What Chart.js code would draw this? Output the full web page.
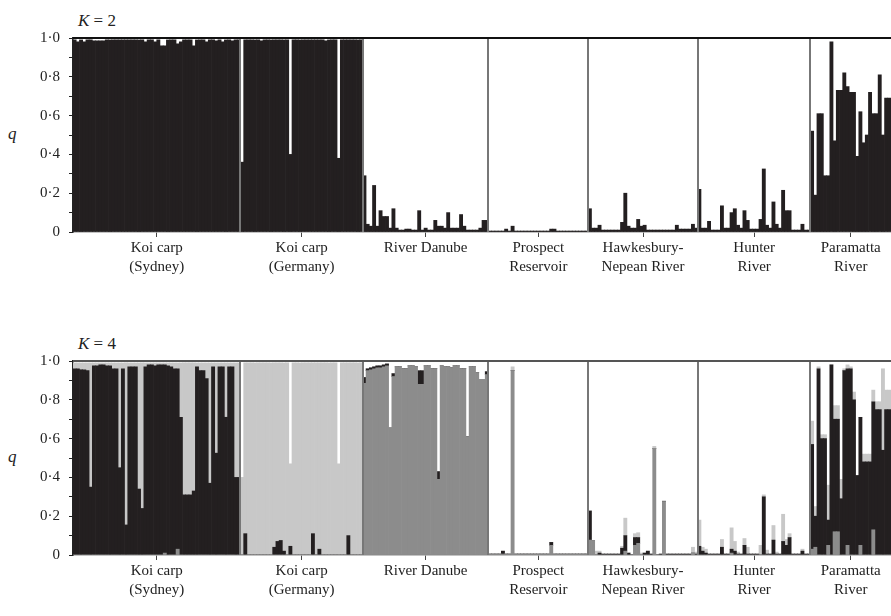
<!DOCTYPE html>
<html>
<head>
<meta charset="utf-8">
<script src="https://cdn.jsdelivr.net/npm/chart.js@4.4.0/dist/chart.umd.min.js"></script>
<style>
  body { margin: 0; background: #fff; width: 891px; height: 616px; overflow: hidden; position: relative; font-family: "Liberation Serif", serif; color: #222; }
  canvas { position: absolute; left: 0; }
  .txt { position: absolute; font-size: 17px; line-height: 20px; white-space: nowrap; }
</style>
</head>
<body>
<div class="txt" style="left:78px;top:11px"><i>K</i> = 2</div>
<div class="txt" style="left:8px;top:124px"><i>q</i></div>
<canvas id="k2" width="891" height="308" style="top:0"></canvas>
<div class="txt" style="left:78px;top:334px"><i>K</i> = 4</div>
<div class="txt" style="left:8px;top:447px"><i>q</i></div>
<canvas id="k4" width="891" height="308" style="top:308px"></canvas>
<script>
// Poblaciones (etiquetas del eje x)
const popLabels = [
  ['Koi carp', '(Sydney)'],
  ['Koi carp', '(Germany)'],
  ['River Danube'],
  ['Prospect', 'Reservoir'],
  ['Hawkesbury-', 'Nepean River'],
  ['Hunter', 'River'],
  ['Paramatta', 'River']
];
const yTickLabels = ['0', '0·2', '0·4', '0·6', '0·8', '1·0'];

// K = 2 : q de cada individuo (grupo negro)
const sydneyQ = [
  0.99, 0.98, 0.99, 0.98, 0.99, 0.99, 0.985, 0.985, 0.985, 0.985,
  0.99, 0.99, 0.99, 0.99, 0.99, 0.99, 0.99, 0.99, 0.99, 0.99,
  0.99, 0.99, 0.98, 0.99, 0.99, 0.98, 0.99, 0.96, 0.96, 0.99,
  0.99, 0.99, 0.97, 0.98, 0.99, 0.99, 0.99, 0.96, 0.99, 0.99,
  0.99, 0.98, 0.99, 0.99, 0.985, 0.99, 0.98, 0.99, 0.99, 0.985,
  0.99, 0.99];
const germanyQ = [
  0.36, 0.99, 0.99, 0.99, 0.99, 0.99, 0.985, 0.99, 0.99, 0.99,
  0.99, 0.99, 0.99, 0.99, 0.99, 0.40, 0.99, 0.99, 0.99, 0.99,
  0.99, 0.99, 0.99, 0.99, 0.99, 0.99, 0.985, 0.99, 0.99, 0.99,
  0.38, 0.99, 0.99, 0.99, 0.99, 0.99, 0.99, 0.99];
const danubeQ = [
  0.29, 0.04, 0.03, 0.24, 0.03, 0.11, 0.08, 0.08, 0.02, 0.12,
  0.02, 0.01, 0.01, 0.015, 0.015, 0.01, 0.01, 0.11, 0.01, 0.02,
  0.01, 0.01, 0.06, 0.03, 0.03, 0.02, 0.10, 0.02, 0.02, 0.02,
  0.09, 0.03, 0.01, 0.01, 0.01, 0.01, 0.02, 0.06, 0.06];
const prospectQ = [
  0.005, 0.005, 0.005, 0.005, 0.005, 0.015, 0.005, 0.03, 0.005, 0.005,
  0.005, 0.005, 0.005, 0.005, 0.005, 0.005, 0.005, 0.005, 0.005, 0.015,
  0.015, 0.005, 0.005, 0.005, 0.005, 0.005, 0.005, 0.005, 0.005, 0.005,
  0.005];
const hawkesburyQ = [
  0.12, 0.02, 0.02, 0.035, 0.01, 0.01, 0.01, 0.01, 0.01, 0.01,
  0.05, 0.20, 0.03, 0.02, 0.02, 0.065, 0.03, 0.035, 0.01, 0.01,
  0.01, 0.01, 0.01, 0.01, 0.01, 0.01, 0.01, 0.035, 0.015, 0.015,
  0.015, 0.015, 0.04, 0.02];
const hunterQ = [
  0.22, 0.02, 0.02, 0.055, 0.01, 0.01, 0.01, 0.135, 0.02, 0.02,
  0.10, 0.12, 0.035, 0.02, 0.11, 0.06, 0.015, 0.015, 0.015, 0.065,
  0.325, 0.035, 0.02, 0.155, 0.04, 0.02, 0.215, 0.11, 0.11, 0.01,
  0.01, 0.01, 0.04, 0.01, 0.01];
const paramattaQ = [
  0.52, 0.19, 0.61, 0.61, 0.29, 0.29, 0.98, 0.47, 0.73, 0.73,
  0.82, 0.75, 0.72, 0.72, 0.39, 0.62, 0.46, 0.50, 0.72, 0.61,
  0.61, 0.81, 0.50, 0.69, 0.69];

// K = 4 : grupo negro, gris claro y gris oscuro (el blanco es el resto)
const sydneyBlack = [
  0.96, 0.96, 0.955, 0.955, 0.95, 0.35, 0.975, 0.975, 0.98, 0.98,
  0.975, 0.975, 0.96, 0.96, 0.45, 0.96, 0.155, 0.97, 0.97, 0.97,
  0.34, 0.24, 0.97, 0.98, 0.98, 0.975, 0.98, 0.98, 0.97, 0.975,
  0.97, 0.96, 0.93, 0.71, 0.31, 0.31, 0.31, 0.33, 0.97, 0.95,
  0.95, 0.91, 0.37, 0.97, 0.525, 0.97, 0.97, 0.71, 0.97, 0.97,
  0.40, 0.40];
const sydneyLight = [
  0.03, 0.03, 0.035, 0.035, 0.04, 0.64, 0.015, 0.015, 0.01, 0.01,
  0.015, 0.015, 0.03, 0.03, 0.54, 0.03, 0.835, 0.02, 0.02, 0.02,
  0.65, 0.75, 0.02, 0.01, 0.01, 0.015, 0.01, 0.01, 0.01, 0.015,
  0.02, 0.03, 0.03, 0.28, 0.68, 0.68, 0.68, 0.66, 0.02, 0.04,
  0.04, 0.08, 0.62, 0.02, 0.465, 0.02, 0.02, 0.28, 0.02, 0.02,
  0.59, 0.59];
const sydneyDark = [
  0, 0, 0, 0, 0, 0, 0, 0, 0, 0,
  0, 0, 0, 0, 0, 0, 0, 0, 0, 0,
  0, 0, 0, 0, 0, 0, 0, 0, 0.01, 0,
  0, 0, 0.03, 0, 0, 0, 0, 0, 0, 0,
  0, 0, 0, 0, 0, 0, 0, 0, 0, 0,
  0, 0];
const germanyBlack = [
  0, 0.11, 0, 0, 0, 0, 0, 0, 0, 0,
  0.04, 0.07, 0.075, 0.02, 0, 0.045, 0, 0, 0, 0,
  0, 0, 0.11, 0, 0.03, 0, 0, 0, 0, 0,
  0, 0, 0, 0.10, 0, 0, 0, 0];
const germanyLight = [
  0.40, 0.88, 0.99, 0.99, 0.99, 0.99, 0.99, 0.99, 0.99, 0.99,
  0.95, 0.92, 0.915, 0.97, 0.99, 0.425, 0.99, 0.99, 0.99, 0.99,
  0.99, 0.99, 0.88, 0.99, 0.96, 0.99, 0.99, 0.99, 0.99, 0.99,
  0.47, 0.99, 0.99, 0.89, 0.99, 0.99, 0.99, 0.99];
const germanyDark = [
  0, 0, 0, 0, 0, 0, 0, 0, 0, 0,
  0, 0, 0, 0, 0, 0, 0, 0, 0, 0,
  0, 0, 0, 0, 0, 0, 0, 0, 0, 0,
  0, 0, 0, 0, 0, 0, 0, 0];
const danubeBlack = [
  0.03, 0.01, 0.01, 0.01, 0.01, 0.01, 0.01, 0.01, 0, 0.015,
  0, 0, 0, 0, 0, 0, 0, 0.07, 0.07, 0,
  0, 0, 0, 0.04, 0, 0, 0, 0, 0, 0,
  0, 0, 0, 0, 0, 0, 0, 0, 0.015];
const danubeLight = [
  0, 0, 0, 0, 0, 0, 0, 0, 0, 0,
  0, 0, 0, 0, 0, 0, 0, 0, 0, 0,
  0, 0, 0, 0, 0, 0, 0, 0, 0, 0,
  0, 0, 0, 0, 0, 0, 0, 0, 0];
const danubeDark = [
  0.885, 0.95, 0.955, 0.96, 0.965, 0.965, 0.97, 0.975, 0.655, 0.92,
  0.97, 0.97, 0.96, 0.96, 0.975, 0.975, 0.97, 0.88, 0.88, 0.975,
  0.975, 0.96, 0.96, 0.39, 0.975, 0.97, 0.97, 0.965, 0.975, 0.975,
  0.96, 0.96, 0.61, 0.97, 0.97, 0.94, 0.905, 0.905, 0.93];
const prospectBlack = [
  0, 0, 0, 0, 0.015, 0, 0, 0, 0, 0,
  0, 0, 0, 0, 0, 0, 0, 0, 0, 0.015,
  0, 0, 0, 0, 0, 0, 0, 0, 0, 0,
  0];
const prospectLight = [
  0, 0, 0, 0, 0, 0, 0, 0.02, 0, 0,
  0, 0, 0, 0, 0, 0, 0, 0, 0, 0,
  0, 0, 0, 0, 0, 0, 0, 0, 0, 0,
  0];
const prospectDark = [
  0.005, 0.005, 0.005, 0.005, 0.005, 0.005, 0.005, 0.95, 0.005, 0.005,
  0.005, 0.005, 0.005, 0.005, 0.005, 0.005, 0.005, 0.005, 0.005, 0.05,
  0.005, 0.005, 0.005, 0.005, 0.005, 0.005, 0.005, 0.005, 0.005, 0.005,
  0.005];
const hawkesburyBlack = [
  0.15, 0, 0, 0.01, 0.005, 0.005, 0.005, 0.005, 0.005, 0.005,
  0.035, 0.08, 0.01, 0, 0.04, 0.03, 0, 0.01, 0.02, 0.005,
  0, 0, 0.005, 0, 0.005, 0.005, 0.005, 0.005, 0.005, 0.005,
  0.005, 0.005, 0, 0.005];
const hawkesburyLight = [
  0, 0, 0.02, 0.01, 0, 0, 0, 0, 0, 0,
  0.01, 0.09, 0, 0, 0.02, 0.025, 0.01, 0, 0, 0,
  0.01, 0, 0, 0.005, 0, 0, 0, 0, 0, 0,
  0, 0, 0.03, 0.01];
const hawkesburyDark = [
  0.077, 0.075, 0, 0, 0, 0, 0, 0, 0, 0,
  0, 0.02, 0, 0, 0.05, 0.06, 0, 0, 0, 0,
  0.55, 0, 0, 0.275, 0, 0, 0, 0, 0, 0,
  0, 0, 0.01, 0];
const hunterBlack = [
  0.045, 0.02, 0.01, 0.005, 0.005, 0.005, 0.005, 0.04, 0.005, 0.005,
  0.02, 0.02, 0.005, 0.005, 0.05, 0.005, 0.005, 0.005, 0.005, 0,
  0.30, 0.005, 0.005, 0.077, 0.005, 0.005, 0.07, 0.05, 0.09, 0.005,
  0.005, 0.005, 0.02, 0.005, 0.005];
const hunterLight = [
  0.135, 0.02, 0.02, 0, 0, 0, 0, 0.04, 0, 0,
  0.11, 0.05, 0.01, 0, 0.035, 0.035, 0, 0, 0, 0.05,
  0.01, 0.02, 0, 0.075, 0.01, 0, 0.14, 0.03, 0.02, 0,
  0, 0, 0.01, 0, 0];
const hunterDark = [
  0, 0, 0, 0, 0, 0, 0, 0, 0, 0,
  0.01, 0, 0, 0, 0, 0, 0, 0, 0, 0,
  0, 0, 0, 0, 0, 0, 0, 0, 0, 0,
  0, 0, 0, 0, 0];
const paramattaBlack = [
  0.54, 0.16, 0.96, 0.60, 0.60, 0.13, 0.98, 0.58, 0.58, 0.29,
  0.95, 0.91, 0.96, 0.80, 0.41, 0.66, 0.48, 0.48, 0.48, 0.66,
  0.75, 0.75, 0.54, 0.75, 0.75];
const paramattaLight = [
  0.12, 0.05, 0.01, 0.02, 0.02, 0.18, 0, 0.07, 0.07, 0.10,
  0.01, 0.02, 0.01, 0.04, 0, 0, 0.04, 0.04, 0.04, 0.06,
  0.04, 0.04, 0.42, 0.10, 0.10];
const paramattaDark = [
  0.03, 0.04, 0, 0, 0, 0.05, 0, 0.12, 0.12, 0,
  0, 0.05, 0, 0, 0, 0.05, 0, 0, 0, 0.13,
  0, 0, 0, 0, 0];

const k2Pops = [sydneyQ, germanyQ, danubeQ, prospectQ, hawkesburyQ, hunterQ, paramattaQ];
const blackPops = [sydneyBlack, germanyBlack, danubeBlack, prospectBlack, hawkesburyBlack, hunterBlack, paramattaBlack];
const lightPops = [sydneyLight, germanyLight, danubeLight, prospectLight, hawkesburyLight, hunterLight, paramattaLight];
const darkPops = [sydneyDark, germanyDark, danubeDark, prospectDark, hawkesburyDark, hunterDark, paramattaDark];

const counts = k2Pops.map(p => p.length);
const total = counts.reduce((a, b) => a + b, 0);
const starts = [];
let acc = 0;
counts.forEach(c => { starts.push(acc); acc += c; });
const centres = starts.map((s, i) => s + counts[i] / 2);

const SERIF = '"Liberation Serif", "Times New Roman", serif';

// Líneas grises entre poblaciones y borde superior
const separadores = {
  id: 'separadores',
  afterDatasetsDraw(chart) {
    const { ctx, chartArea: a } = chart;
    const sc = chart.scales.pop;
    ctx.save();
    ctx.strokeStyle = '#777';
    ctx.lineWidth = 2;
    starts.slice(1).forEach(s => {
      const x = Math.round(sc.getPixelForValue(s));
      ctx.beginPath();
      ctx.moveTo(x, a.top);
      ctx.lineTo(x, a.bottom);
      ctx.stroke();
    });
    ctx.strokeStyle = chart.options.frameColor;
    ctx.beginPath();
    ctx.moveTo(a.left, a.top);
    ctx.lineTo(a.right, a.top);
    ctx.stroke();
    ctx.restore();
  }
};

function barSet(values, colour) {
  return {
    data: values.flat(),
    backgroundColor: colour,
    borderWidth: 0,
    barPercentage: 1,
    categoryPercentage: 1
  };
}

function crearGrafico(id, datasets, padTop, axisHeight, frameColor) {
  return new Chart(document.getElementById(id), {
    type: 'bar',
    data: {
      labels: Array.from({ length: total }, (_, i) => String(i + 1)),
      datasets
    },
    options: {
      responsive: false,
      animation: false,
      frameColor,
      layout: { padding: { top: padTop, left: 0, right: 0, bottom: 0 } },
      plugins: { legend: { display: false }, tooltip: { enabled: false } },
      scales: {
        x: { stacked: true, display: false, offset: true },
        pop: {
          type: 'linear',
          position: 'bottom',
          min: 0,
          max: total,
          offset: false,
          afterBuildTicks: ax => { ax.ticks = centres.map(v => ({ value: v })); },
          afterFit: ax => { ax.height = axisHeight; },
          ticks: {
            autoSkip: false,
            maxRotation: 0,
            padding: 1,
            color: '#222',
            font: { family: SERIF, size: 15, lineHeight: 1.3 },
            callback: (v, i) => popLabels[i]
          },
          grid: { drawOnChartArea: false, offset: false, tickLength: 5, color: '#444', lineWidth: 1 },
          border: { color: '#888', width: 1.5 }
        },
        y: {
          stacked: true,
          min: 0,
          max: 1,
          afterFit: ax => { ax.width = 73; },
          ticks: {
            stepSize: 0.1,
            autoSkip: false,
            padding: 9,
            color: '#222',
            font: { family: SERIF, size: 15 },
            callback: v => {
              const k = Math.round(v * 10);
              return k % 2 === 0 ? yTickLabels[k / 2] : '';
            }
          },
          grid: { drawOnChartArea: false, tickLength: 4, color: '#222' },
          border: { color: '#222', width: 1.5 }
        }
      }
    },
    plugins: [separadores]
  });
}

crearGrafico('k2', [barSet(k2Pops, '#231f20')], 38, 76, '#111');
crearGrafico('k4', [
  barSet(darkPops, '#8c8c8c'),
  barSet(blackPops, '#231f20'),
  barSet(lightPops, '#c8c8c8')
], 53, 61, '#555');
</script>
</body>
</html>
